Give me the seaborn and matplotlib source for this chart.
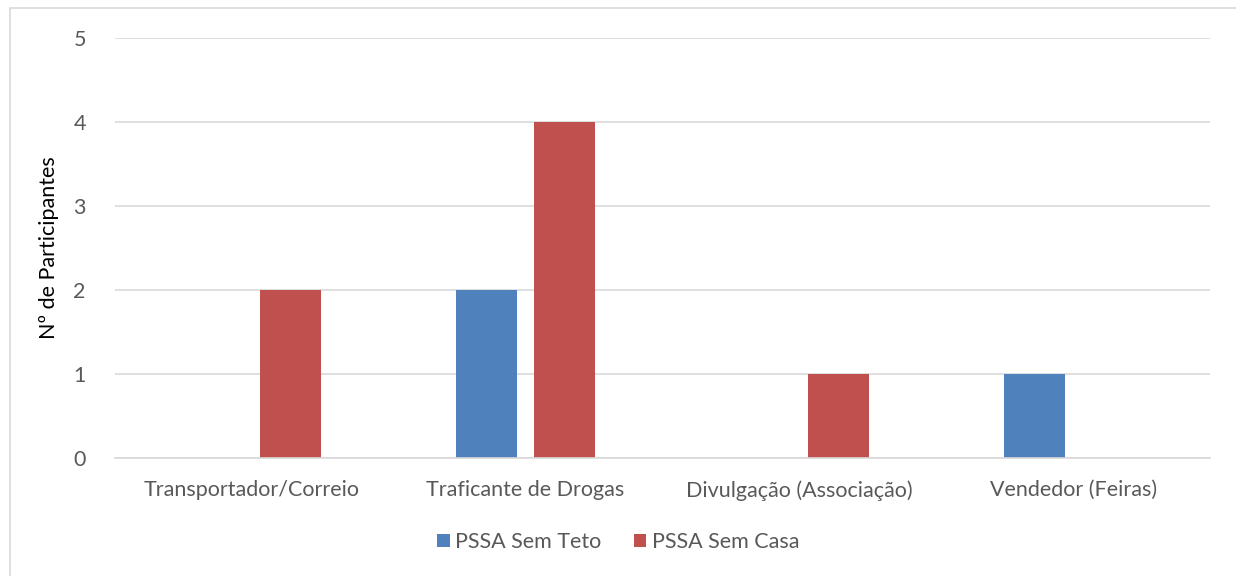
import matplotlib.pyplot as plt
import matplotlib.patches as mpatches
import pandas as pd
import seaborn as sns

categorias = ['Transportador/Correio', 'Traficante de Drogas', 'Divulgação (Associação)', 'Vendedor (Feiras)']
sem_teto = [0, 2, 0, 1]
sem_casa = [2, 4, 1, 0]
series = ['PSSA Sem Teto', 'PSSA Sem Casa']

df = pd.DataFrame({
    'Categoria': categorias * 2,
    'Valor': sem_teto + sem_casa,
    'Serie': [series[0]] * 4 + [series[1]] * 4,
})

sns.set_style('white')
plt.rcParams['font.family'] = ['Lato', 'DejaVu Sans']
cinza = '#595959'
fs = 15.5

fig = plt.figure(figsize=(12.36, 5.76), dpi=100)
ax = fig.add_axes([115 / 1236, 1 - 458 / 576, (1210 - 115) / 1236, (458 - 38) / 576])

sns.barplot(data=df, x='Categoria', y='Valor', hue='Serie', order=categorias,
            hue_order=series, palette=['#4F81BD', '#C0504D'],
            width=0.57, gap=0.22, ax=ax, saturation=1, legend=True, linewidth=0)

ax.set_ylim(0, 5)
ax.set_xlim(-0.5, 3.5)
ax.set_yticks(range(6))
ax.yaxis.grid(True, color='#d9d9d9', linewidth=1.2)
ax.set_axisbelow(True)
for s in ['top', 'right', 'left']:
    ax.spines[s].set_visible(False)
ax.spines['bottom'].set_color('#d9d9d9')
ax.spines['bottom'].set_linewidth(1.2)
ax.tick_params(axis='both', length=0, labelsize=fs, colors=cinza)
ax.tick_params(axis='x', pad=16)
ax.tick_params(axis='y', pad=21)
ax.set_xlabel('')
ax.set_ylabel('Nº de Participantes', fontsize=fs, color='black', labelpad=10)

h, l = ax.get_legend_handles_labels()
ax.get_legend().remove()
fig.legend(h, l, loc='center', bbox_to_anchor=(0.5, 1 - 542 / 576), ncol=2, frameon=False,
           fontsize=fs, labelcolor=cinza, handlelength=0.6, handleheight=0.6,
           handletextpad=0.25, columnspacing=1.5)

fig.patches.append(mpatches.Rectangle((10 / 1236, -0.01), 1.02, 1 - 8 / 576 + 0.01,
                                      transform=fig.transFigure, fill=False,
                                      edgecolor='#d9d9d9', linewidth=1.2))

fig.savefig('out.png', dpi=100)
